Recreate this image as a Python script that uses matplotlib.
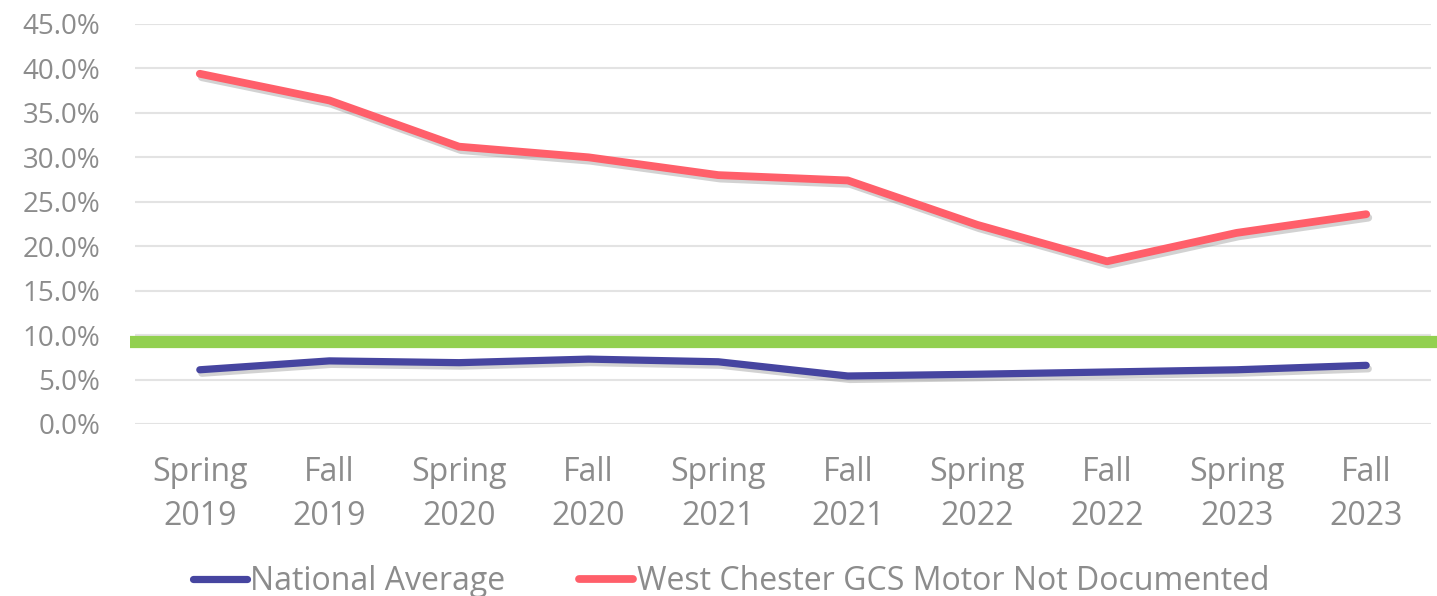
import matplotlib
matplotlib.use("Agg")
import matplotlib.pyplot as plt
import matplotlib.patheffects as pe
from matplotlib.lines import Line2D

categories = ["Spring\n2019", "Fall\n2019", "Spring\n2020", "Fall\n2020", "Spring\n2021",
              "Fall\n2021", "Spring\n2022", "Fall\n2022", "Spring\n2023", "Fall\n2023"]
national_average = [6.1, 7.1, 6.9, 7.3, 7.0, 5.4, 5.6, 5.85, 6.1, 6.6]
west_chester = [39.4, 36.4, 31.2, 30.0, 28.0, 27.4, 22.4, 18.3, 21.5, 23.6]
target_line = 9.2
y_ticks = [0, 5, 10, 15, 20, 25, 30, 35, 40, 45]
y_tick_labels = [f"{v:.1f}%" for v in y_ticks]

plt.rcParams['font.family'] = ['Open Sans', 'DejaVu Sans']

fig = plt.figure(figsize=(14.37, 5.96), dpi=100)
ax = fig.add_axes([135/1437, 1-424/596, (1431-135)/1437, 400/596])

x = list(range(len(categories)))
shadow = [pe.SimpleLineShadow(offset=(1.5, -2.5), shadow_color='#808080', alpha=0.35), pe.Normal()]

ax.axhline(target_line, xmin=-0.004, xmax=1.01, color='#92D050', lw=8.8,
           solid_capstyle='butt', clip_on=False, zorder=2)
ax.plot(x, national_average, color='#4645A0', lw=5.2, solid_capstyle='round',
        solid_joinstyle='round', path_effects=shadow, zorder=3)
ax.plot(x, west_chester, color='#FF5F6A', lw=5.6, solid_capstyle='round',
        solid_joinstyle='round', path_effects=shadow, zorder=3)

ax.set_xlim(-0.5, len(categories) - 0.5)
ax.set_ylim(0, 45)
ax.set_yticks(y_ticks)
ax.set_yticklabels(y_tick_labels)
ax.set_xticks(x)
ax.set_xticklabels(categories, linespacing=1.45)
ax.grid(axis='y', color='#E3E3E3', lw=1.5)
ax.set_axisbelow(True)
for s in ax.spines.values():
    s.set_visible(False)
ax.tick_params(axis='y', length=0, pad=25, labelsize=20, labelcolor='#8C8C8C')
ax.tick_params(axis='x', length=0, pad=23, labelsize=23, labelcolor='#8C8C8C')

handles = [Line2D([], [], color='#4645A0', lw=5.2, solid_capstyle='round'),
           Line2D([], [], color='#FF5F6A', lw=5.6, solid_capstyle='round')]
fig.legend(handles, ["National Average", "West Chester GCS Motor Not Documented"],
           loc='center', bbox_to_anchor=(731/1437, 1-582/596), ncol=2, frameon=False,
           fontsize=23, labelcolor='#8C8C8C', handlelength=1.7, handletextpad=0.1,
           columnspacing=2.3, borderpad=0)

fig.savefig("out.png", dpi=100)
